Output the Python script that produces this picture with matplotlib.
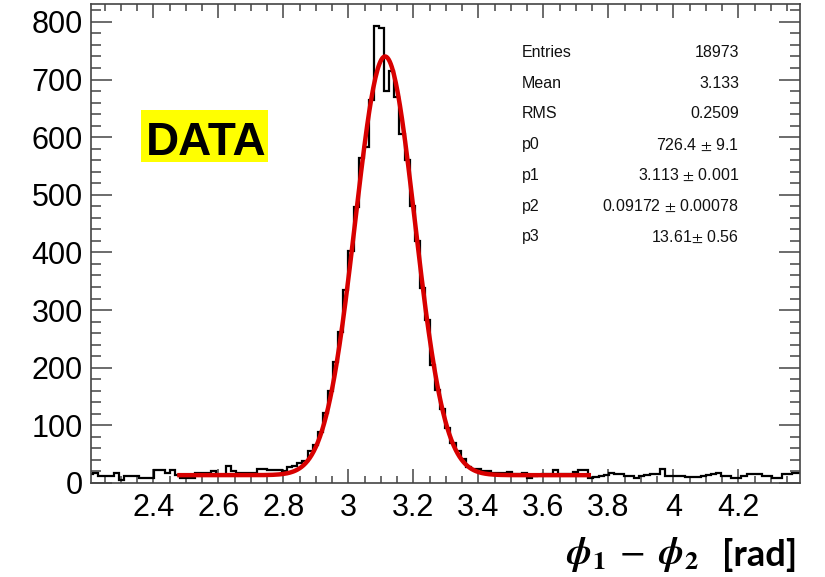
import numpy as np
import matplotlib.pyplot as plt
from matplotlib.patches import Rectangle
from matplotlib.ticker import MultipleLocator

plt.rcParams['font.family'] = ['Liberation Sans', 'DejaVu Sans']
plt.rcParams['mathtext.fontset'] = 'stix'

# histogram contents, 140 bins of width pi/200 starting at bin 140 (x = 2.199)
counts = [
    15, 17, 13, 13, 13, 17, 6, 12, 12, 12,
    9, 9, 9, 23, 23, 17, 23, 14, 9, 9,
    9, 17, 17, 17, 20, 14, 14, 29, 20, 17,
    17, 17, 17, 24, 24, 22, 23, 23, 20, 28,
    29, 35, 38, 56, 66, 88, 122, 160, 210, 262,
    334, 402, 478, 563, 583, 664, 793, 789, 680, 714,
    670, 605, 560, 480, 420, 338, 282, 205, 162, 128,
    95, 70, 56, 42, 28, 25, 24, 21, 20, 17,
    17, 17, 19, 15, 15, 18, 9, 13, 14, 15,
    15, 22, 15, 15, 15, 19, 22, 22, 9, 11,
    13, 14, 18, 15, 15, 12, 12, 9, 13, 14,
    16, 16, 24, 13, 12, 12, 12, 11, 11, 11,
    13, 14, 16, 18, 13, 13, 9, 9, 12, 16,
    16, 16, 12, 12, 9, 9, 16, 16, 18, 18,
]
first_bin = 140
bin_width = np.pi / 200
edges = (first_bin + np.arange(len(counts) + 1)) * bin_width

# fit: gaus + const
p0, p1, p2, p3 = 726.4, 3.113, 0.09172, 13.61
fit_lo, fit_hi = 2.48, 3.74

stat_names = ["Entries", "Mean", "RMS", "p0", "p1", "p2", "p3"]
stat_values = ["18973", "3.133", "0.2509", "726.4 $\\pm$ 9.1", "3.113 $\\pm$ 0.001",
               "0.09172 $\\pm$ 0.00078", "13.61$\\pm$ 0.56"]

W, H = 825, 577
fig = plt.figure(figsize=(W / 100, H / 100), dpi=100)
ax = fig.add_axes([91 / W, 1 - 483 / H, 709 / W, 479 / H])

ax.stairs(counts, edges, color='black', lw=1.6, baseline=None, zorder=2)
xf = np.linspace(fit_lo, fit_hi, 400)
ax.plot(xf, p0 * np.exp(-0.5 * ((xf - p1) / p2) ** 2) + p3, color='#d80000', lw=3.2, zorder=3)

ax.set_xlim(2.208, 4.390)
ax.set_ylim(0, 831)
ax.xaxis.set_minor_locator(MultipleLocator(0.05))
ax.yaxis.set_major_locator(MultipleLocator(100))
ax.yaxis.set_minor_locator(MultipleLocator(20))
ax.set_xticks([2.4, 2.6, 2.8, 3.0, 3.2, 3.4, 3.6, 3.8, 4.0, 4.2])
ax.set_xticklabels(["2.4", "2.6", "2.8", "3", "3.2", "3.4", "3.6", "3.8", "4", "4.2"])

for s in ax.spines.values():
    s.set_color('#444444')
    s.set_linewidth(1.2)
ax.tick_params(which='both', direction='in', top=True, right=True, colors='#444444',
               labelcolor='black', labelsize=22, width=1.1)
ax.tick_params(axis='x', which='major', length=10, pad=7)
ax.tick_params(axis='x', which='minor', length=5)
ax.tick_params(axis='y', which='major', length=15, pad=6)
ax.tick_params(axis='y', which='minor', length=7.5)

# stats box
for i, (n, v) in enumerate(zip(stat_names, stat_values)):
    yy = 1 - (52.5 + 30.7 * i) / H
    fig.text(522 / W, yy, n, fontsize=11.5, va='center', ha='left', color='#111111')
    fig.text(739 / W, yy, v, fontsize=11.5, va='center', ha='right', color='#111111')

# DATA label
ax.add_patch(Rectangle((141 / W, 1 - 162 / H), 127 / W, 52 / H, transform=fig.transFigure,
                       facecolor='#ffff00', edgecolor='none', clip_on=False, zorder=4))
fig.text(206 / W, 1 - 155 / H, "DATA", fontsize=33, fontweight='bold', ha='center',
         va='baseline', zorder=5)

# axis title
fig.text(797 / W, 1 - 566 / H, "[rad]", fontsize=26, fontweight='bold',
         ha='right', va='baseline', family=['Lato', 'DejaVu Sans'])
fig.text(699 / W, 1 - 564 / H,
         r"$\mathbfit{\phi}_{\mathbf{1}}\;-\;\mathbfit{\phi}_{\mathbf{2}}$",
         fontsize=27, ha='right', va='baseline')

fig.savefig('out.png', dpi=100)
